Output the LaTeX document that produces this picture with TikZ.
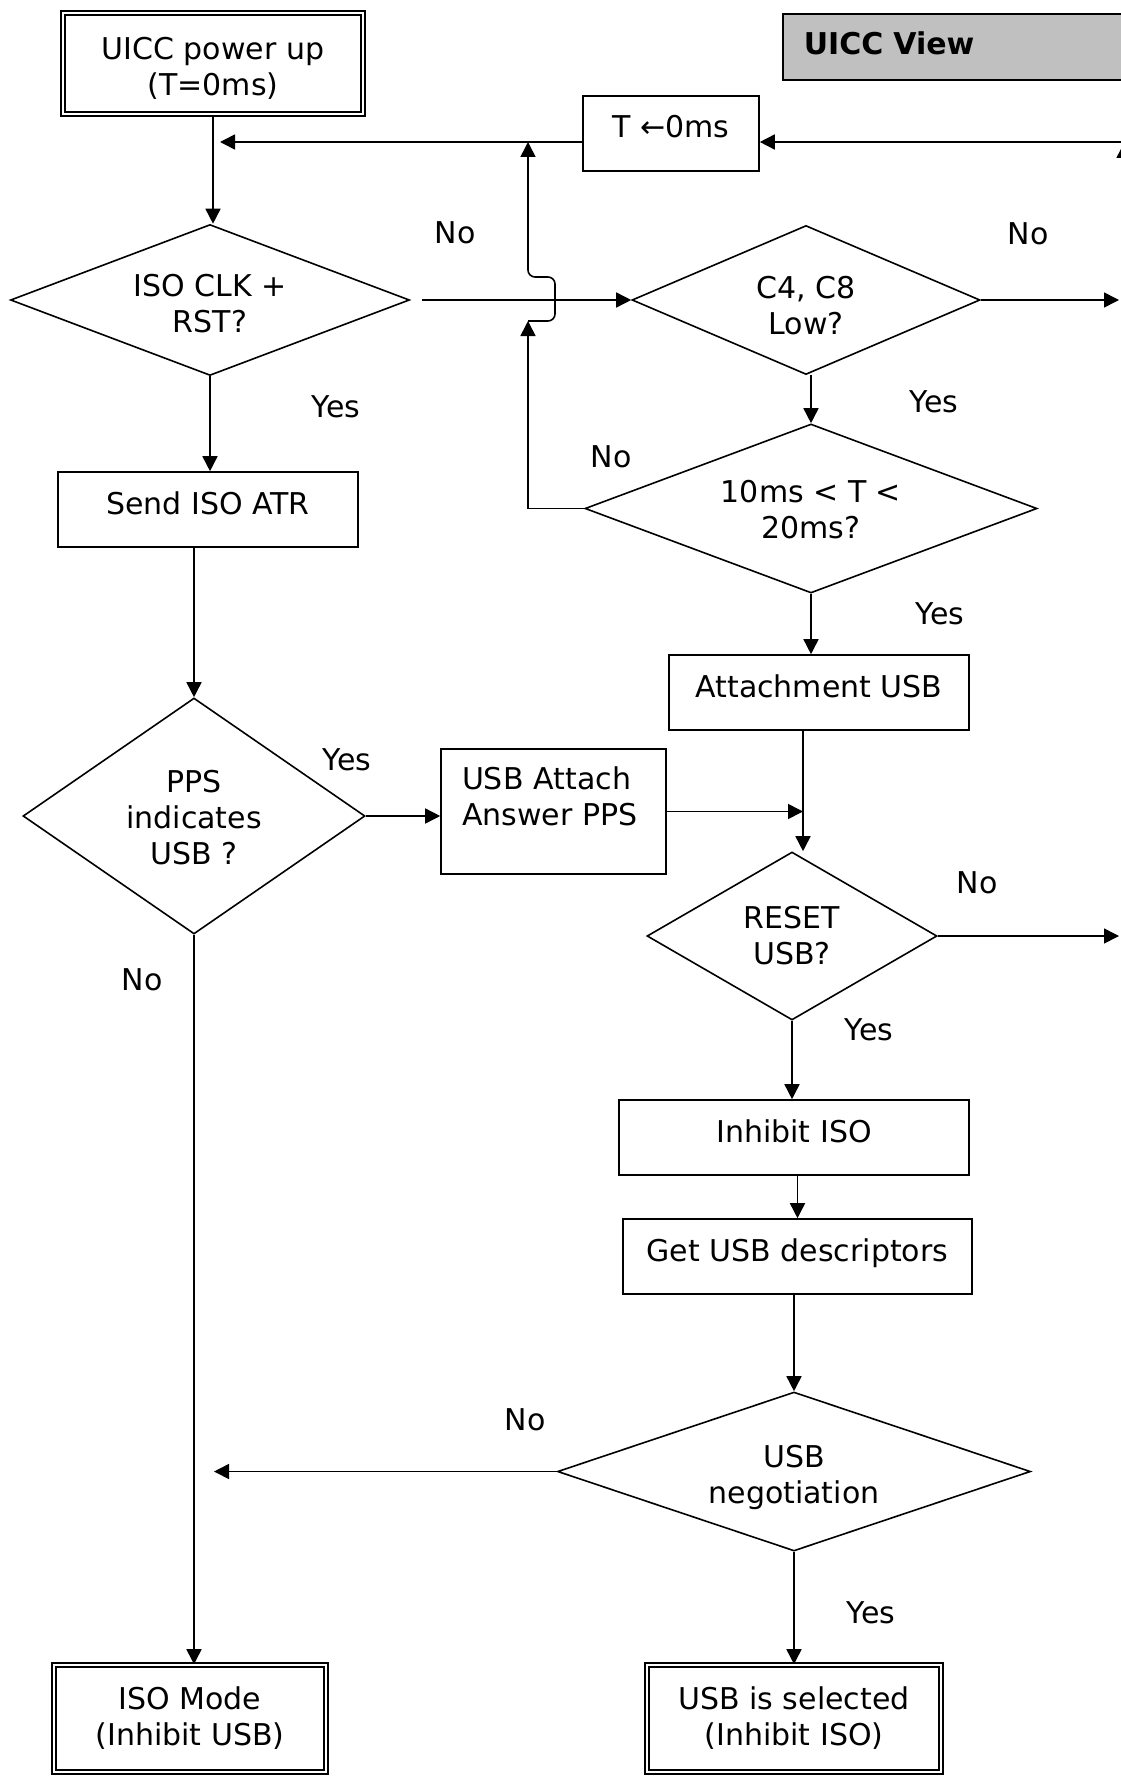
\documentclass[tikz,border=0pt]{standalone}
\usepackage{fontspec}
\setmainfont{DejaVu Sans}
\usetikzlibrary{shapes.geometric,arrows.meta,calc}
\definecolor{viewgray}{HTML}{C0C0C0}
\newcommand{\hh}[1]{\rule{0pt}{#1pt}}
\newcommand{\dd}[1]{\rule[-#1pt]{0pt}{#1pt}}
\begin{document}
\begin{tikzpicture}[x=1pt,y=-1pt,
  every node/.style={font=\fontsize{30}{36}\selectfont},
  box/.style={draw, line width=1.6pt, rectangle, inner sep=0pt, align=center},
  dbox/.style={draw, rectangle, inner sep=0pt, align=center, line width=1.6pt, double, double distance=2.6pt},
  dia/.style={draw, diamond, line width=1.6pt, inner sep=0pt, align=center},
  arr/.style={line width=1.6pt, -{Triangle[length=15pt,width=15pt]}},
  lab/.style={inner sep=0pt}
]
\useasboundingbox (0,0) rectangle (1120,1776);

% nodes
\node[dbox, minimum width=300pt, minimum height=101pt] (power) at (213,63.5) {\hh{36}UICC power up\\(T=0ms)\dd{8}};
\node[box, fill=viewgray, anchor=north west, minimum width=360pt, minimum height=66pt, text width=318pt, inner xsep=21pt, align=left, font=\fontsize{30}{36}\selectfont\bfseries] (view) at (782,13) {\hh{24}UICC View\dd{8}};
\node[box, minimum width=176pt, minimum height=75pt] (tbox) at (671,133.5) {\hh{24}T ←0ms\dd{15}};
\node[dia, minimum width=399pt, minimum height=151pt, aspect=2.64] (iso) at (210,300) {\hh{38}ISO CLK +\\RST?\dd{8}};
\node[dia, minimum width=348pt, minimum height=149pt, aspect=2.34] (c4) at (806,300) {\hh{41}C4, C8\\Low?\dd{8}};
\node[dia, minimum width=452pt, minimum height=169pt, aspect=2.67] (tms) at (811,508.5) {\hh{31}10ms < T <\\20ms?\dd{8}};
\node[box, minimum width=300pt, minimum height=75pt] (send) at (208,509.5) {\hh{24}Send ISO ATR\dd{15}};
\node[box, minimum width=300pt, minimum height=75pt] (attach) at (819,692.5) {\hh{24}Attachment USB\dd{15}};
\node[dia, minimum width=342pt, minimum height=236pt, aspect=1.45] (pps) at (194,816) {\hh{32}PPS\\indicates\\USB ?\dd{8}};
\node[box, minimum width=225pt, minimum height=125pt, text width=183pt, inner xsep=21pt, align=left] (ua) at (553.5,811.5) {\hh{24}USB Attach\\Answer PPS\dd{32}};
\node[dia, minimum width=290pt, minimum height=168pt, aspect=1.73] (reset) at (792,936) {\hh{28}RESET\\USB?\dd{8}};
\node[box, minimum width=350pt, minimum height=75pt] (inhibit) at (794,1137.5) {\hh{24}Inhibit ISO\dd{15}};
\node[box, minimum width=349pt, minimum height=75pt] (get) at (797.5,1256.5) {\hh{24}Get USB descriptors\dd{15}};
\node[dia, minimum width=473pt, minimum height=159pt, aspect=2.97] (neg) at (794,1471.5) {\hh{35}USB\\negotiation\dd{8}};
\node[dbox, minimum width=272pt, minimum height=107pt] (isomode) at (190,1718.5) {\hh{26}ISO Mode\\(Inhibit USB)\dd{8}};
\node[dbox, minimum width=294pt, minimum height=107pt] (usbsel) at (794,1718.5) {\hh{26}USB is selected\\(Inhibit ISO)\dd{8}};

% labels
\node[lab] (no1) at (455,233) {No};
\node[lab] (no2) at (1028,234) {No};
\node[lab] (yes1) at (336,407) {Yes};
\node[lab] (yes2) at (934,402) {Yes};
\node[lab] (no3) at (611,457) {No};
\node[lab] (yes3) at (940,614) {Yes};
\node[lab] (yes4) at (347,760) {Yes};
\node[lab] (no4) at (142,980) {No};
\node[lab] (no5) at (977,883) {No};
\node[lab] (yes5) at (869,1030) {Yes};
\node[lab] (no6) at (525,1420) {No};
\node[lab] (yes6) at (871,1613) {Yes};

% helper coordinates
\coordinate (j1) at (220,142);
\coordinate (rin) at (1125,142);
\coordinate (rup) at (1124,143);
\coordinate (rlow) at (1124,260);
\coordinate (hopb) at (528,321);
\coordinate (edge) at (1119,0);
\coordinate (nl) at (214,0);
\coordinate (av) at ([xshift=-16pt]attach.south);
\coordinate (isoout) at ([xshift=12pt]iso.east);

% connectors
\draw[arr] (power.south) -- (power.south |- iso.north);
\draw[arr] (tbox.west |- j1) -- (j1);
\draw[arr] (rin) -- (tbox.east |- rin);
\draw[arr] (rlow) -- (rup);
\draw[arr] (isoout) -- (isoout -| c4.west);
\draw[arr] (tms.west) -| (hopb);
\draw[arr] (hopb) [rounded corners=7pt] -- ++(27,0) -- ++(0,-44) -- ++(-27,0) [sharp corners] -- (hopb |- j1);
\draw[arr] (c4.east) -- (c4.east -| edge);
\draw[arr] (tms.north |- c4.south) -- (tms.north);
\draw[arr] (tms.south) -- (tms.south |- attach.north);
\draw[arr] (av) -- (av |- reset.north);
\draw[arr] (ua.east) -- (ua.east -| av);
\draw[arr] (iso.south) -- (iso.south |- send.north);
\draw[arr] (pps.north |- send.south) -- (pps.north);
\draw[arr] (pps.east) -- (pps.east -| ua.west);
\draw[arr] (reset.east) -- (reset.east -| edge);
\draw[arr] (reset.south) -- (reset.south |- inhibit.north);
\draw[arr] (get.north |- inhibit.south) -- (get.north);
\draw[arr] (neg.north |- get.south) -- (neg.north);
\draw[arr] (neg.west) -- (neg.west -| nl);
\draw[arr] (neg.south) -- (neg.south |- usbsel.north);
\draw[arr] (pps.south) -- (pps.south |- isomode.north);
\end{tikzpicture}
\end{document}
